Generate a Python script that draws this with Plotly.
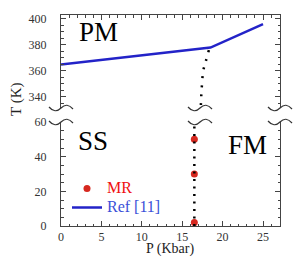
import plotly.graph_objects as go

# ---- data ----
ref_P = [0, 18.5, 25]
ref_T = [365, 378, 396]
mr_P = [16.5, 16.5, 16.5]
mr_T = [50, 30, 2]
bound_top_P = [18.3, 17.9, 17.6, 17.45, 17.35, 17.3]
bound_top_T = [376, 367, 360, 350, 340, 331.5]
bound_bot_P = [16.5, 16.5]
bound_bot_T = [0, 60]
x_ticks = [0, 5, 10, 15, 20, 25]
y_low_ticks = [0, 20, 40, 60]
y_high_ticks = [340, 360, 380, 400]

SERIF = "Liberation Serif, Times New Roman, serif"
AX = "#444444"

# plot area in px (for paper conversion of decorations)
L, R, T, B = 61, 280, 15, 226
W, H = R - L, B - T
def px(x): return (x - L) / W
def py(y): return (B - y) / H

fig = go.Figure()
fig.add_trace(go.Scatter(x=mr_P, y=mr_T, mode="markers",
                         marker=dict(color="#d6281f", size=7), cliponaxis=False,
                         name='<span style="color:#f01010;font-size:16px">MR</span>'))
fig.add_trace(go.Scatter(x=ref_P, y=ref_T, xaxis="x2", yaxis="y2", mode="lines",
                         line=dict(color="#2323c8", width=2.5),
                         name='<span style="color:#3a4fd8;font-size:16px">Ref [11]</span>'))
fig.add_trace(go.Scatter(x=bound_top_P, y=bound_top_T, xaxis="x2", yaxis="y2", mode="lines",
                         line=dict(color="black", width=2.5, dash="2px,7px", shape="spline"),
                         showlegend=False, hoverinfo="skip"))
fig.add_trace(go.Scatter(x=bound_bot_P, y=bound_bot_T, mode="lines",
                         line=dict(color="black", width=2.5, dash="2px,5.5px"),
                         showlegend=False, hoverinfo="skip"))

common_x = dict(range=[0, 27.1], showgrid=False, zeroline=False, showline=True,
                linecolor=AX, linewidth=1, ticks="inside", ticklen=5, tickcolor=AX,
                tickvals=x_ticks, automargin=False,
                minor=dict(dtick=1, ticks="inside", ticklen=2.5, tickcolor=AX),
                tickfont=dict(family=SERIF, size=12, color="#333"))
common_y = dict(showgrid=False, zeroline=False, showline=True, linecolor=AX, linewidth=1,
                ticks="inside", ticklen=5, tickcolor=AX, mirror="allticks", automargin=False,
                minor=dict(dtick=5, ticks="inside", ticklen=2.5, tickcolor=AX),
                ticklabelstandoff=11,
                tickfont=dict(family=SERIF, size=12, color="#333"))

fig.update_layout(
    width=297, height=258, autosize=False,
    margin=dict(l=L, r=297 - R, t=T, b=258 - B, pad=0),
    paper_bgcolor="white", plot_bgcolor="white",
    showlegend=True,
    legend=dict(x=px(67), y=py(174), xanchor="left", yanchor="top",
                bgcolor="rgba(0,0,0,0)", font=dict(family=SERIF, size=11),
                tracegroupgap=0, itemwidth=30),
    xaxis=dict(**common_x, anchor="y"),
    xaxis2=dict(**common_x, anchor="y2", matches="x", side="top", showticklabels=False),
    yaxis=dict(**common_y, domain=[0, py(122)], range=[0, 60], tickvals=y_low_ticks, anchor="x"),
    yaxis2=dict(**common_y, domain=[py(108), 1], range=[331.5, 403], tickvals=y_high_ticks, anchor="x2"),
)

# region labels
fig.add_annotation(x=4.6, y=390, xref="x2", yref="y2", text="PM", showarrow=False,
                   font=dict(family=SERIF, size=27, color="black"))
fig.add_annotation(x=3.9, y=49, xref="x", yref="y", text="SS", showarrow=False,
                   font=dict(family=SERIF, size=27, color="black"))
fig.add_annotation(x=23.1, y=46.5, xref="x", yref="y", text="FM", showarrow=False,
                   font=dict(family=SERIF, size=27, color="black"))
# axis titles
fig.add_annotation(x=px(16), y=py(100), xref="paper", yref="paper", text="T (K)",
                   textangle=-90, showarrow=False, xanchor="center", yanchor="middle",
                   font=dict(family=SERIF, size=15, color="#222"))
fig.add_annotation(x=px(170), y=py(249), xref="paper", yref="paper", text="P (Kbar)",
                   showarrow=False, xanchor="center", yanchor="middle",
                   font=dict(family=SERIF, size=14, color="#222"))

# axis-break squiggles
def squiggle(cx, cy):
    pts = [(cx - 12, cy - 1), (cx - 6, cy + 6), (cx, cy), (cx + 6, cy - 6), (cx + 12, cy + 1)]
    p = [(px(a), py(b)) for a, b in pts]
    return (f"M {p[0][0]},{p[0][1]} Q {p[1][0]},{p[1][1]} {p[2][0]},{p[2][1]} "
            f"Q {p[3][0]},{p[3][1]} {p[4][0]},{p[4][1]}")

for cx in (L, 200, R):
    for cy in (108, 122):
        fig.add_shape(type="path", path=squiggle(cx, cy), xref="paper", yref="paper",
                      line=dict(color="#333", width=1.2))

fig.write_html("out.html", config={"displayModeBar": False},
               post_script="document.body.style.margin='0';")
